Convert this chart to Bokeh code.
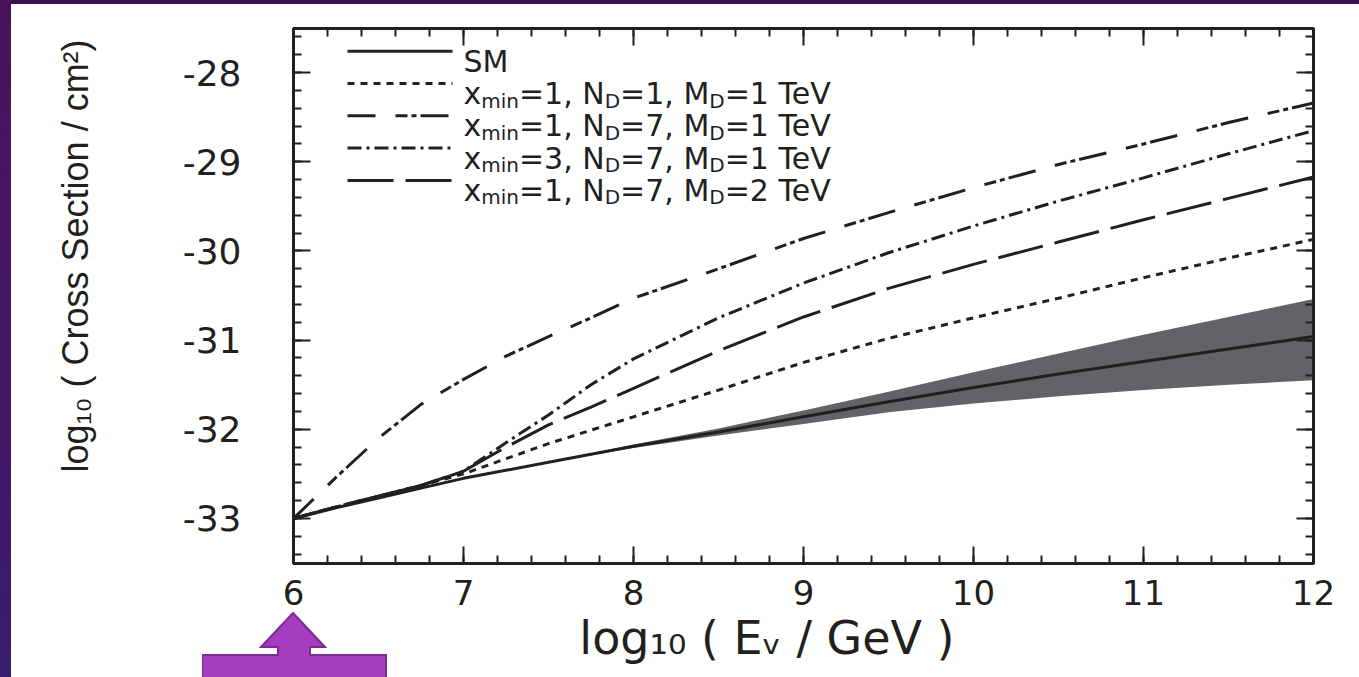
from bokeh.plotting import figure
from bokeh.models import (Range1d, LinearAxis, SingleIntervalTicker, Label,
                          CustomJSTickFormatter, Div)
from bokeh.layouts import column, row
from bokeh.embed import file_html
from bokeh.resources import INLINE

# ---------------- data ----------------
log_energy = [6, 6.25, 6.5, 6.75, 7, 7.25, 7.5, 7.75, 8, 8.5, 9, 9.5, 10, 10.5, 11, 11.5, 12]
sm = [-33.0, -32.88, -32.77, -32.66, -32.55, -32.46, -32.37, -32.28, -32.19, -32.03, -31.86, -31.69, -31.53, -31.38, -31.24, -31.10, -30.96]
sm_upper = [-33.0, -32.88, -32.77, -32.66, -32.55, -32.46, -32.365, -32.27, -32.17, -31.99, -31.79, -31.58, -31.36, -31.15, -30.94, -30.74, -30.54]
sm_lower = [-33.0, -32.88, -32.77, -32.66, -32.55, -32.46, -32.375, -32.29, -32.21, -32.07, -31.94, -31.81, -31.71, -31.63, -31.56, -31.50, -31.45]
xmin1_nd1_md1 = [-33.0, -32.87, -32.75, -32.63, -32.50, -32.33, -32.16, -32.01, -31.86, -31.56, -31.25, -30.98, -30.75, -30.53, -30.30, -30.08, -29.87]
xmin1_nd7_md1 = [-33.0, -32.54, -32.10, -31.72, -31.44, -31.18, -30.96, -30.75, -30.53, -30.20, -29.86, -29.57, -29.29, -29.03, -28.80, -28.56, -28.34]
xmin3_nd7_md1 = [-33.0, -32.87, -32.75, -32.63, -32.47, -32.15, -31.84, -31.50, -31.21, -30.75, -30.36, -30.02, -29.72, -29.44, -29.18, -28.91, -28.65]
xmin1_nd7_md2 = [-33.0, -32.87, -32.75, -32.63, -32.47, -32.20, -31.95, -31.75, -31.54, -31.12, -30.74, -30.42, -30.15, -29.90, -29.65, -29.41, -29.17]

legend_rows = [
    [("SM", 0)],
    [("x", 0), ("min", 1), ("=1, N", 0), ("D", 1), ("=1, M", 0), ("D", 1), ("=1 TeV", 0)],
    [("x", 0), ("min", 1), ("=1, N", 0), ("D", 1), ("=7, M", 0), ("D", 1), ("=1 TeV", 0)],
    [("x", 0), ("min", 1), ("=3, N", 0), ("D", 1), ("=7, M", 0), ("D", 1), ("=1 TeV", 0)],
    [("x", 0), ("min", 1), ("=1, N", 0), ("D", 1), ("=7, M", 0), ("D", 1), ("=2 TeV", 0)],
]
series = [sm, xmin1_nd1_md1, xmin1_nd7_md1, xmin3_nd7_md1, xmin1_nd7_md2]
dashes = ["solid", "7 6", "28 20 12 4 5 4", "14 5 3 5", "46 12"]

NB = "\u00a0"
x_title = "log₁₀ ( Eᵥ / GeV )" + NB * 5
y_title = NB * 8 + "log₁₀ ( Cross Section / cm²)"

INK = "#231f20"
FONT = "DejaVu Sans"

# ---------------- layout ----------------
PAGE_W, PAGE_H = 1359, 677
STRIP_L, STRIP_T = 11, 4          # purple slide background visible at left / top
W, H = PAGE_W - STRIP_L, PAGE_H - STRIP_T
FL, FR, FT, FB = 293, 1313, 28, 563   # frame edges in page pixels
X0, X1 = 6.0, 12.0
Y0, Y1 = -33.505, -27.505

def px_x(px):
    return X0 + (px - FL) * (X1 - X0) / (FR - FL)

def px_y(py):
    return Y1 - (py - FT) * (Y1 - Y0) / (FB - FT)

p = figure(width=W, height=H, output_backend="svg", toolbar_location=None,
           x_range=Range1d(X0, X1), y_range=Range1d(Y0, Y1),
           min_border_left=FL - STRIP_L, min_border_right=PAGE_W - FR,
           min_border_top=FT - STRIP_T, min_border_bottom=PAGE_H - FB,
           background_fill_color="white", border_fill_color="white")
p.grid.visible = False
p.outline_line_color = INK
p.outline_line_width = 3

int_fmt = CustomJSTickFormatter(code="return tick.toFixed(0)")
blank = CustomJSTickFormatter(code="return ''")
p.below[0].ticker = SingleIntervalTicker(interval=1, num_minor_ticks=5)
p.left[0].ticker = SingleIntervalTicker(interval=1, num_minor_ticks=5)
p.below[0].formatter = int_fmt
p.left[0].formatter = int_fmt
p.add_layout(LinearAxis(ticker=SingleIntervalTicker(interval=1, num_minor_ticks=5), formatter=blank), "above")
p.add_layout(LinearAxis(ticker=SingleIntervalTicker(interval=1, num_minor_ticks=5), formatter=blank), "right")

for ax in p.axis:
    ax.axis_line_color = INK
    ax.axis_line_width = 3
    ax.major_tick_in = 17
    ax.major_tick_out = 0
    ax.minor_tick_in = 8
    ax.minor_tick_out = 0
    ax.major_tick_line_color = INK
    ax.minor_tick_line_color = INK
    ax.major_tick_line_width = 2
    ax.minor_tick_line_width = 2
    ax.major_label_text_font = FONT
    ax.major_label_text_color = INK

for ax in p.above + p.right:
    ax.major_label_text_font_size = "0px"
    ax.major_label_standoff = 0

bx = p.below[0]
bx.major_label_text_font_size = "34px"
bx.major_label_standoff = 16
bx.axis_label = x_title
bx.axis_label_text_font = FONT
bx.axis_label_text_font_size = "46px"
bx.axis_label_text_font_style = "normal"
bx.axis_label_text_color = INK
bx.axis_label_standoff = 3

ly = p.left[0]
ly.major_label_text_font_size = "36px"
ly.major_label_standoff = 52
ly.axis_label = y_title
ly.axis_label_text_font = "Liberation Sans"
ly.axis_label_text_font_size = "36px"
ly.axis_label_text_font_style = "normal"
ly.axis_label_text_color = INK
ly.axis_label_standoff = 84

# ---------------- band + curves ----------------
p.varea(x=log_energy, y1=sm_lower, y2=sm_upper, fill_color="#626366")
for ys, d in zip(series, dashes):
    p.line(log_energy, ys, line_color=INK, line_width=3, line_dash=d)

# ---------------- legend (drawn by hand, with subscripts) ----------------
ADV = {' ': 651, ',': 651, '=': 1716, '1': 1303, '2': 1303, '3': 1303, '7': 1303, '0': 1303,
       'x': 1212, 'm': 1995, 'i': 569, 'n': 1298, 'N': 1532, 'D': 1577, 'M': 1767, 'T': 1251,
       'e': 1260, 'V': 1401, 'S': 1300}

def text_w(s, size):
    return sum(ADV.get(c, 1250) for c in s) / 2048.0 * size

LEG_SIZE, LEG_SUB = 30, 20
row_y0, row_dy = 50.7, 32.3
for k, (pieces, d) in enumerate(zip(legend_rows, dashes)):
    py = row_y0 + k * row_dy
    p.line([px_x(347), px_x(452)], [px_y(py), px_y(py)], line_color=INK, line_width=3, line_dash=d)
    cx = 463
    for txt, sub in pieces:
        size = LEG_SUB if sub else LEG_SIZE
        base = py + 10 + (7 if sub else 0)
        p.add_layout(Label(x=px_x(cx), y=px_y(base), text=txt, text_font=FONT,
                           text_font_size=f"{size}px", text_color=INK,
                           text_align="left", text_baseline="alphabetic"))
        cx += text_w(txt, size)

# ---------------- slide background strips and the purple arrow ----------------
left_strip = Div(text="", width=STRIP_L, height=PAGE_H, margin=0,
                 styles={"background": "linear-gradient(#4b1259, #3a1d6c)"})
top_strip = Div(text="", width=W, height=STRIP_T, margin=0,
                styles={"background": "#40104f"})

ARROW_TOP = 606
arrow_h = PAGE_H - ARROW_TOP
arrow_svg = (f'<svg width="190" height="{arrow_h}" xmlns="http://www.w3.org/2000/svg" style="display:block">'
             '<polygon points="91,7 123,41 108,41 108,49 184,49 184,80 0,80 0,49 76,49 76,41 59,41" '
             'fill="#a43dbf" stroke="#7b2b8f" stroke-width="2"/></svg>')
arrow = Div(text=arrow_svg, width=190, height=arrow_h,
            margin=(-arrow_h, 0, 0, 202 - STRIP_L))

layout = row(left_strip, column(top_strip, p, arrow, spacing=0), spacing=0)
open("out.html", "w").write(file_html(layout, INLINE))
